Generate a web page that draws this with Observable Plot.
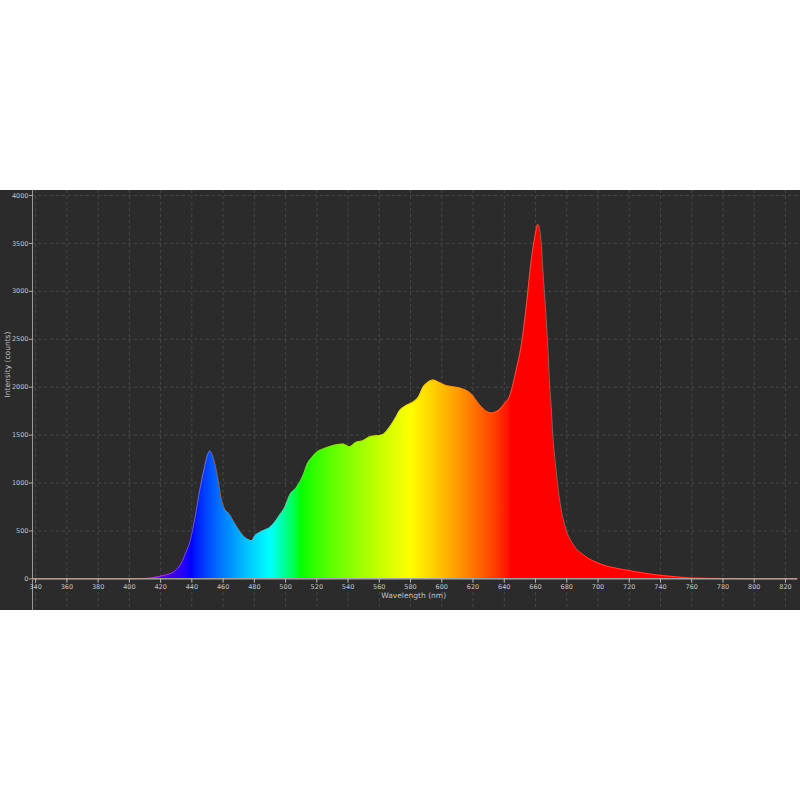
<!DOCTYPE html>
<html>
<head>
<meta charset="utf-8">
<script src="https://cdn.jsdelivr.net/npm/d3@7"></script>
<script src="https://cdn.jsdelivr.net/npm/@observablehq/plot@0.6"></script>
<style>
  html, body { margin: 0; padding: 0; background: #ffffff; }
  #wrap { position: absolute; left: 0; top: 190px; width: 800px; height: 420px; }
  svg { display: block; font-family: "DejaVu Sans", sans-serif; }
</style>
</head>
<body>
<div id="wrap"></div>
<script>
// Spectrum readings (wavelength nm, intensity counts)
const wavelengths = [
  338, 360, 380, 400, 410, 415, 419, 424, 429, 434, 436, 439, 442, 445, 448, 450, 451.5, 453,
  455, 457, 459, 461, 464, 467, 470.5, 474, 477, 478.5, 480, 483.5, 486.5, 490, 493, 496,
  499.5, 502.5, 507, 511, 514, 517, 520, 524, 530, 537, 541, 545, 549.5, 554, 558, 562,
  566.5, 570, 573, 577, 581.5, 585, 588, 591, 594.5, 598.5, 603, 607, 613.5, 619, 623,
  627.5, 631.5, 636, 640, 643.5, 647.5, 651, 654, 657, 659.5, 661.5, 663.5, 665, 666.5,
  668, 669, 670, 671, 673, 675.5, 678.5, 684, 691.5, 702, 715, 723.5, 737, 750, 760, 780,
  800, 827.7
];
const intensity = [
  0, 0, 0, 0, 5, 12, 25, 45, 80, 190, 270, 400, 640, 920, 1160, 1290, 1335, 1295,
  1180, 1010, 820, 728, 675, 590, 500, 432, 404, 398, 439, 484, 508, 536, 588, 658,
  745, 867, 954, 1070, 1200, 1270, 1320, 1354, 1389, 1407, 1379, 1424, 1441, 1483, 1493, 1504,
  1580, 1668, 1755, 1807, 1842, 1894, 1998, 2050, 2075, 2050, 2016, 2005, 1981, 1929, 1842,
  1762, 1731, 1755, 1825, 1911, 2172, 2451, 2834, 3286, 3565, 3697, 3530, 3147, 2799,
  2381, 2033, 1800, 1511, 1162, 815, 571, 362, 240, 153, 101, 76, 42, 21, 8, 3,
  0, 0
];
const xTicks = [340, 360, 380, 400, 420, 440, 460, 480, 500, 520, 540, 560, 580, 600, 620, 640, 660, 680, 700, 720, 740, 760, 780, 800, 820];
const yTicks = [0, 500, 1000, 1500, 2000, 2500, 3000, 3500, 4000];
const xLabel = "Wavelength (nm)";
const yLabel = "Intensity (counts)";

const data = wavelengths.map((w, i) => ({w, v: intensity[i]}));

// wavelength -> visible colour
function waveColor(l) {
  let r = 0, g = 0, b = 0;
  if (l < 440) { r = (440 - l) / 60; b = 1; }
  else if (l < 490) { g = (l - 440) / 50; b = 1; }
  else if (l < 510) { g = 1; b = (510 - l) / 20; }
  else if (l < 580) { r = (l - 510) / 70; g = 1; }
  else if (l < 645) { r = 1; g = (645 - l) / 65; }
  else { r = 1; }
  let f = 1;
  if (l < 420) f = 0.3 + 0.7 * Math.max(0, l - 380) / 40;
  else if (l < 438) f = 0.75 + 0.25 * (l - 420) / 18;
  const c = v => Math.round(255 * Math.pow(Math.max(0, v) * f, 0.8));
  return `rgb(${c(r)},${c(g)},${c(b)})`;
}

const grid = "#484848";
const txt = "#c4c4c4";

const plot = Plot.plot({
  width: 800,
  height: 420,
  marginLeft: 32,
  marginRight: 3,
  marginTop: 0,
  marginBottom: 0,
  style: {background: "#2b2b2b", color: txt, fontSize: "7px"},
  x: {domain: [338, 827.7], axis: null},
  y: {domain: [-330, 4052], axis: null},
  marks: [
    Plot.ruleX(xTicks, {stroke: grid, strokeDasharray: "3,3", strokeWidth: 1}),
    Plot.ruleY(yTicks.filter(d => d > 0), {stroke: grid, strokeDasharray: "3,3", strokeWidth: 1}),
    Plot.areaY(data, {x: "w", y: "v", fill: "url(#spectrum)", curve: "monotone-x"}),
    Plot.ruleY([0], {stroke: "#d8d8d8", strokeWidth: 1}),
    Plot.lineY(data, {x: "w", y: "v", stroke: "#e8957f", strokeWidth: 0.7, strokeOpacity: 0.75, curve: "monotone-x"}),
    Plot.ruleX([338], {stroke: "#9a9a9a", strokeWidth: 1}),
    // x axis ticks and labels
    Plot.ruleX(xTicks, {y1: 0, y2: -45, stroke: "#d0d0d0", strokeWidth: 0.8}),
    Plot.text(xTicks, {x: d => d, y: 0, dy: 8, text: d => String(d), fill: txt, fontSize: 6.5}),
    // y axis ticks and labels
    Plot.ruleY(yTicks, {x1: 336, x2: 338, stroke: "#d0d0d0", strokeWidth: 0.8}),
    Plot.text(yTicks, {x: 338, y: d => d, dx: -4, textAnchor: "end", text: d => String(d), fill: txt, fontSize: 6.5}),
    Plot.text([xLabel], {x: 582, y: 0, dy: 17, text: d => d, fill: txt, fontSize: 7.5}),
    Plot.text([yLabel], {frameAnchor: "left", dx: -25, dy: -3, rotate: -90, text: d => d, fill: txt, fontSize: 7.5})
  ]
});

// gradient fill for the spectrum area, positioned through the x scale
const xs = plot.scale("x");
const ns = "http://www.w3.org/2000/svg";
const defs = document.createElementNS(ns, "defs");
const grad = document.createElementNS(ns, "linearGradient");
grad.setAttribute("id", "spectrum");
grad.setAttribute("gradientUnits", "userSpaceOnUse");
const g0 = 380, g1 = 780;
grad.setAttribute("x1", xs.apply(g0));
grad.setAttribute("x2", xs.apply(g1));
grad.setAttribute("y1", 0);
grad.setAttribute("y2", 0);
for (let l = g0; l <= g1; l += 2.5) {
  const s = document.createElementNS(ns, "stop");
  s.setAttribute("offset", ((l - g0) / (g1 - g0)).toFixed(4));
  s.setAttribute("stop-color", waveColor(l));
  grad.appendChild(s);
}
defs.appendChild(grad);
plot.insertBefore(defs, plot.firstChild);

document.getElementById("wrap").appendChild(plot);
</script>
</body>
</html>
